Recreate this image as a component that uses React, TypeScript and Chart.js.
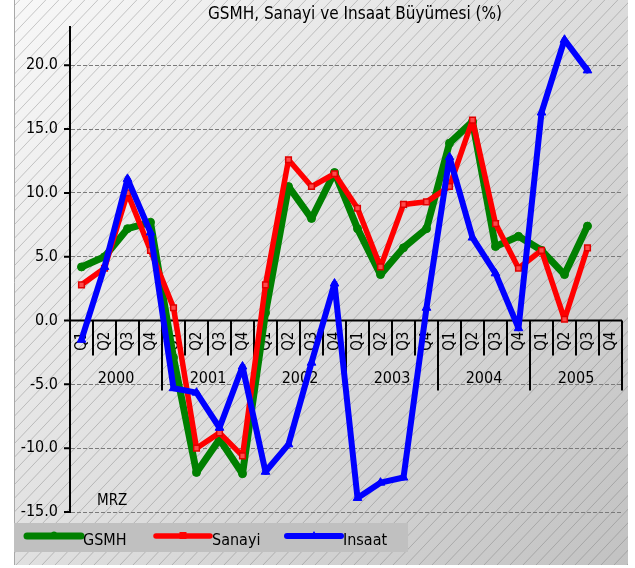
import React, { useEffect, useRef } from "react";
import { Chart, registerables } from "chart.js";

Chart.register(...registerables);

const title = "GSMH, Sanayi ve Insaat Büyümesi (%)";
const note = "MRZ";
const years = ["2000", "2001", "2002", "2003", "2004", "2005"];
const quarters = ["Q1", "Q2", "Q3", "Q4"];
const yTicks = [-15, -10, -5, 0, 5, 10, 15, 20];

const gsmh = [4.2, 5.0, 7.2, 7.7, -2.9, -11.9, -9.3, -12.0, 0.6, 10.5, 8.0, 11.6, 7.2, 3.6, 5.7, 7.2, 13.9, 15.6, 5.8, 6.6, 5.5, 3.6, 7.4, null];
const sanayi = [2.8, 4.1, 10.0, 5.5, 1.0, -10.0, -8.8, -10.6, 2.8, 12.6, 10.5, 11.5, 8.8, 4.2, 9.1, 9.3, 10.5, 15.7, 7.6, 4.1, 5.5, 0.1, 5.7, null];
const insaat = [-1.5, 4.2, 11.1, 6.9, -5.3, -5.65, -8.4, -3.6, -11.85, -9.7, -3.3, 2.9, -13.9, -12.7, -12.3, 1.0, 12.8, 6.5, 3.7, -0.6, 16.3, 22.0, 19.6, null];

const seriesNames = ["GSMH", "Sanayi", "Insaat"];
const seriesColors = ["#008000", "#ff0000", "#0000ff"];

const FONT = "'DejaVu Sans Condensed', 'DejaVu Sans', sans-serif";

const categoryLabels: string[] = [];
years.forEach(() => quarters.forEach((q) => categoryLabels.push(q)));

const backgroundPlugin = {
  id: "bg",
  beforeDraw(chart: any) {
    const ctx = chart.ctx;
    const W = chart.width;
    const H = chart.height;
    ctx.save();
    ctx.fillStyle = "#ffffff";
    ctx.fillRect(0, 0, W, H);
    const bx = 14, by = 0, bw = 614, bh = 565;
    const g = ctx.createLinearGradient(bx, by, bx + bw, by + bh);
    g.addColorStop(0, "#f8f8f8");
    g.addColorStop(0.5, "#dedede");
    g.addColorStop(1, "#c2c2c2");
    ctx.fillStyle = g;
    ctx.fillRect(bx, by, bw, bh);
    ctx.beginPath();
    ctx.rect(bx, by, bw, bh);
    ctx.clip();
    ctx.strokeStyle = "rgba(110,110,110,0.45)";
    ctx.lineWidth = 0.8;
    ctx.beginPath();
    for (let k = -700; k < 800; k += 13) {
      ctx.moveTo(bx + k, by + bh);
      ctx.lineTo(bx + k + 0.95 * bh, by);
    }
    ctx.stroke();
    ctx.restore();
    ctx.save();
    ctx.strokeStyle = "#a8a8a8";
    ctx.lineWidth = 1;
    ctx.beginPath();
    ctx.moveTo(bx + 0.5, 0);
    ctx.lineTo(bx + 0.5, bh);
    ctx.stroke();
    ctx.restore();
  },
};

const axisPlugin = {
  id: "xaxis",
  beforeDatasetsDraw(chart: any) {
    const ctx = chart.ctx;
    const xs = chart.scales.x;
    const ys = chart.scales.y;
    const area = chart.chartArea;
    const y0 = ys.getPixelForValue(0);
    const n = categoryLabels.length;
    const w = (area.right - area.left) / n;
    ctx.save();
    ctx.strokeStyle = "#000";
    ctx.lineWidth = 2;
    ctx.beginPath();
    yTicks.forEach((v) => {
      const py = ys.getPixelForValue(v);
      ctx.moveTo(area.left - 6, py);
      ctx.lineTo(area.left, py);
    });
    ctx.stroke();
    ctx.beginPath();
    ctx.moveTo(area.left, y0);
    ctx.lineTo(area.right, y0);
    ctx.stroke();
    ctx.beginPath();
    for (let b = 0; b <= n; b++) {
      const x = b < n ? xs.getPixelForValue(b) - w / 2 : xs.getPixelForValue(n - 1) + w / 2;
      const len = b % quarters.length === 0 ? 70 : 35;
      ctx.moveTo(x, y0);
      ctx.lineTo(x, y0 + len);
    }
    ctx.stroke();
    ctx.fillStyle = "#000";
    ctx.font = `15px ${FONT}`;
    ctx.textAlign = "right";
    ctx.textBaseline = "middle";
    categoryLabels.forEach((lab, i) => {
      const x = xs.getPixelForValue(i);
      ctx.save();
      ctx.translate(x + 1, y0 + 11);
      ctx.rotate(-Math.PI / 2);
      ctx.fillText(lab, 0, 0);
      ctx.restore();
    });
    ctx.font = `16px ${FONT}`;
    ctx.textAlign = "center";
    years.forEach((yr, j) => {
      const x0 = xs.getPixelForValue(j * quarters.length) - w / 2;
      const x = x0 + (w * quarters.length) / 2;
      ctx.fillText(yr, x, y0 + 58);
    });
    ctx.restore();
  },
  afterDraw(chart: any) {
    const ctx = chart.ctx;
    ctx.save();
    ctx.fillStyle = "#000";
    ctx.font = `17px ${FONT}`;
    ctx.textAlign = "center";
    ctx.textBaseline = "middle";
    ctx.fillText(title, 355, 15);
    ctx.font = `15px ${FONT}`;
    ctx.textAlign = "left";
    ctx.fillText(note, 97, 501);
    ctx.fillStyle = "#c0c0c0";
    ctx.fillRect(14, 523, 394, 29);
    const starts = [27, 156, 287];
    chart.data.datasets.forEach((ds: any, i: number) => {
      const x1 = starts[i];
      const x2 = x1 + 54;
      const ly = 536;
      ctx.strokeStyle = ds.borderColor;
      ctx.lineWidth = ds.borderWidth;
      ctx.lineCap = "round";
      ctx.beginPath();
      ctx.moveTo(x1, ly);
      ctx.lineTo(x2, ly);
      ctx.stroke();
      ctx.fillStyle = ds.borderColor;
      const cx = (x1 + x2) / 2;
      if (ds.pointStyle === "rect") {
        ctx.fillRect(cx - 3.5, ly - 4, 7, 7);
      } else if (ds.pointStyle === "triangle") {
        ctx.beginPath();
        ctx.moveTo(cx, ly - 5);
        ctx.lineTo(cx + 3, ly);
        ctx.lineTo(cx - 3, ly);
        ctx.closePath();
        ctx.fill();
      } else {
        ctx.beginPath();
        ctx.arc(cx, ly - 1.5, 3, 0, Math.PI * 2);
        ctx.fill();
      }
      ctx.fillStyle = "#000";
      ctx.font = `16px ${FONT}`;
      ctx.textBaseline = "alphabetic";
      ctx.fillText(ds.label, x2 + 2, 545);
    });
    ctx.restore();
  },
};

export default function App() {
  const ref = useRef<HTMLCanvasElement>(null);
  useEffect(() => {
    if (!ref.current) return;
    const chart = new Chart(ref.current, {
      type: "line",
      data: {
        labels: categoryLabels,
        datasets: [
          {
            label: seriesNames[0],
            data: gsmh,
            borderColor: seriesColors[0],
            backgroundColor: seriesColors[0],
            borderWidth: 7,
            pointStyle: "circle",
            pointRadius: 4,
            pointBorderWidth: 1,
            pointBackgroundColor: seriesColors[0],
            pointBorderColor: seriesColors[0],
            tension: 0,
            borderJoinStyle: "round",
            borderCapStyle: "round",
            order: 3,
          },
          {
            label: seriesNames[1],
            data: sanayi,
            borderColor: seriesColors[1],
            backgroundColor: seriesColors[1],
            borderWidth: 5.5,
            pointStyle: "rect",
            pointRadius: 4,
            pointBorderWidth: 1.5,
            pointBackgroundColor: "#ff4a4a",
            pointBorderColor: "#e00000",
            tension: 0,
            borderJoinStyle: "round",
            borderCapStyle: "round",
            order: 2,
          },
          {
            label: seriesNames[2],
            data: insaat,
            borderColor: seriesColors[2],
            backgroundColor: seriesColors[2],
            borderWidth: 6,
            pointStyle: "triangle",
            pointRadius: 5,
            pointBorderWidth: 1,
            pointBackgroundColor: seriesColors[2],
            pointBorderColor: seriesColors[2],
            tension: 0,
            borderJoinStyle: "round",
            borderCapStyle: "round",
            order: 1,
          },
        ] as any,
      },
      options: {
        animation: false,
        responsive: false,
        devicePixelRatio: 1,
        layout: { padding: { left: 0, right: 13, top: 27, bottom: 56 } },
        plugins: {
          legend: { display: false },
          title: { display: false },
          tooltip: { enabled: false },
        },
        scales: {
          x: { type: "category", offset: true, display: false },
          y: {
            min: -15,
            max: 23,
            afterBuildTicks: (scale: any) => {
              scale.ticks = yTicks.map((v) => ({ value: v }));
            },
            afterFit: (scale: any) => {
              scale.width = 70;
            },
            grid: { color: "#7a7a7a", drawTicks: false, lineWidth: 1 },
            border: { display: true, color: "#000", width: 2, dash: [4, 2] },
            ticks: {
              padding: 12,
              color: "#000",
              font: { family: FONT, size: 16 },
              callback: (v: any) => Number(v).toFixed(1),
            },
          },
        },
      } as any,
      plugins: [backgroundPlugin, axisPlugin],
    });
    return () => chart.destroy();
  }, []);
  return (
    <div style={{ position: "absolute", left: 0, top: 0, width: 635, height: 568 }}>
      <canvas ref={ref} width={635} height={568} style={{ width: 635, height: 568 }} />
    </div>
  );
}
